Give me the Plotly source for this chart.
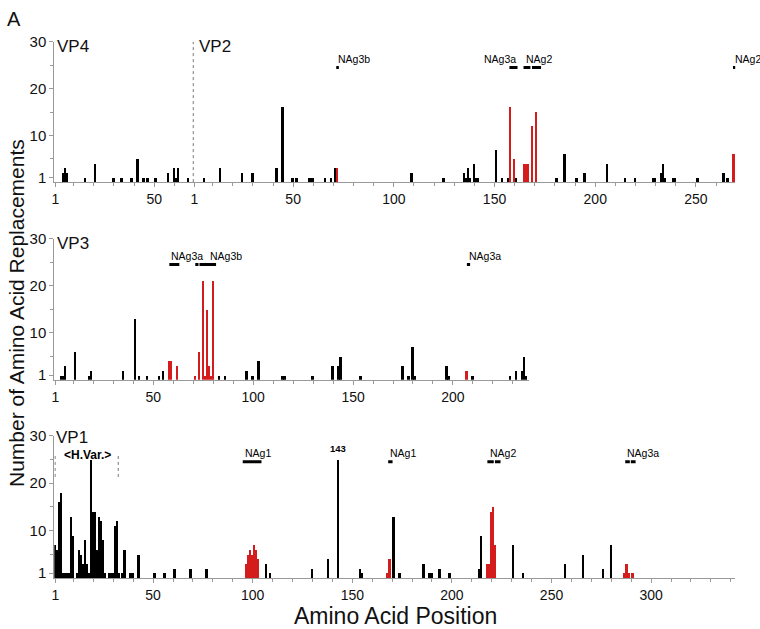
import plotly.graph_objects as go

W, H = 760, 629
VP4_LEN = 69

# ---------------- data (residue position -> number of replacements) ----------------
VP4_POS = [5, 6, 7, 16, 21, 30, 34, 39, 42, 45, 47, 51, 57, 60, 61, 62, 67]
VP4_VAL = [2, 3, 2, 1, 4, 1, 1, 1, 5, 1, 1, 1, 2, 3, 1, 3, 1]

VP2_BLACK_POS = [6, 14, 25, 30, 42, 45, 50, 52, 58, 59, 60, 66, 69, 71, 109, 125, 135, 136, 137, 138,
                 140, 141, 142, 151, 154, 157, 161, 181, 185, 191, 195, 206, 215, 220, 229, 230, 233,
                 234, 235, 239, 240, 251, 264, 266]
VP2_BLACK_VAL = [1, 3, 2, 2, 3, 16, 1, 1, 1, 1, 1, 1, 1, 3, 2, 1, 2, 1, 3, 1,
                 4, 1, 1, 7, 1, 1, 1, 1, 6, 1, 2, 4, 1, 1, 1, 1, 2,
                 4, 1, 1, 1, 1, 2, 1]
VP2_RED_POS = [72, 158, 160, 165, 166, 167, 169, 171, 269]
VP2_RED_VAL = [3, 16, 5, 4, 4, 4, 12, 15, 6]

VP3_BLACK_POS = [4, 5, 6, 11, 18, 19, 35, 41, 43, 47, 53, 55, 83, 86, 97, 100, 103, 115, 116, 130,
                 140, 143, 144, 154, 175, 178, 180, 181, 197, 198, 210, 229, 232, 235, 236, 237]
VP3_BLACK_VAL = [1, 1, 3, 6, 1, 2, 2, 13, 1, 1, 1, 2, 1, 1, 2, 1, 4, 1, 1, 1,
                 3, 3, 5, 1, 3, 1, 7, 1, 3, 1, 1, 1, 2, 2, 5, 1]
VP3_RED_POS = [58, 59, 62, 71, 73, 75, 76, 77, 78, 79, 80, 207]
VP3_RED_VAL = [4, 4, 3, 1, 6, 21, 1, 15, 3, 1, 21, 2]

VP1_BLACK_POS = [1, 2, 3, 4, 5, 6, 7, 8, 9, 10, 12, 13, 14, 15, 16, 17, 18, 19, 20, 21, 22, 23, 24, 25, 26,
                 28, 29, 30, 31, 32, 33, 35, 36, 39, 40, 43, 51, 56, 61, 69, 77, 107, 109, 130, 138, 143,
                 154, 155, 171, 174, 186, 189, 190, 194, 199, 214, 215, 231, 236, 257, 266, 276, 280]
VP1_BLACK_VAL = [7, 6, 16, 18, 1, 1, 1, 1, 13, 9, 1, 6, 5, 3, 8, 3, 1, 25, 14, 14, 6, 13, 12, 8, 1,
                 1, 1, 1, 11, 12, 1, 1, 6, 1, 1, 5, 1, 1, 2, 2, 2, 3, 1, 2, 4, 25,
                 2, 1, 13, 1, 3, 1, 1, 2, 1, 2, 9, 7, 1, 3, 5, 2, 7]
VP1_RED_POS = [97, 98, 99, 100, 101, 102, 103, 168, 169, 218, 219, 220, 221, 222, 287, 288, 289, 291]
VP1_RED_VAL = [3, 5, 6, 5, 7, 6, 4, 1, 4, 3, 3, 14, 15, 7, 1, 3, 1, 1]

# antigenic sites: label, label start residue, segments (residue ranges)
NAG_VP2_TEXT = ["NAg3b", "NAg3a", "NAg2", "NAg2"]
NAG_VP2_TEXT_AT = [72, 162.3, 165, 269]
NAG_VP2_TEXT_SIDE = ["left", "right", "left", "left"]
NAG_VP2_SEGS = [(72, 73.3), (158, 162), (165, 168.4), (169.2, 173.7), (269, 270.8)]

NAG_VP3_TEXT = ["NAg3a", "NAg3b", "NAg3a"]
NAG_VP3_TEXT_AT = [58, 77.6, 207]
NAG_VP3_SEGS = [(58, 63), (71, 72.6), (73.1, 81.4), (207, 208.6)]

NAG_VP1_TEXT = ["NAg1", "NAg1", "NAg2", "NAg3a"]
NAG_VP1_TEXT_AT = [95, 168, 218, 287]
NAG_VP1_SEGS = [(95, 104.4), (168, 170.2), (217.8, 221), (221.6, 224.4), (287, 289.3), (289.8, 292.2)]

HVAR_RANGE = (0.8, 32.5)
HIGHLIGHT_POS = 143

VP4_TICKS = [1, 50]
VP2_TICKS = [1, 50, 100, 150, 200, 250]
VP3_TICKS = [1, 50, 100, 150, 200]
VP1_TICKS = [1, 50, 100, 150, 200, 250, 300]
Y_TICKS = [1, 10, 20, 30]
Y_MINOR = [5, 15, 25]

# ---------------- styling ----------------
BLACK = "#000000"
RED = "#d41c1c"
AXIS = "#9a9a9a"
FONT = "Liberation Sans, Arial, Helvetica, sans-serif"
BAR_W = 0.95


def fx(px):
    return px / W


def fy(py):
    return 1 - py / H


fig = go.Figure()


def bars(pos, val, color, xa, ya, offset=0):
    fig.add_trace(go.Bar(x=[p + offset for p in pos], y=val, width=BAR_W,
                         marker=dict(color=color, line=dict(width=0)),
                         xaxis=xa, yaxis=ya, showlegend=False))


bars(VP4_POS, VP4_VAL, BLACK, "x", "y")
bars(VP2_BLACK_POS, VP2_BLACK_VAL, BLACK, "x", "y", VP4_LEN)
bars(VP2_RED_POS, VP2_RED_VAL, RED, "x", "y", VP4_LEN)
bars(VP3_BLACK_POS, VP3_BLACK_VAL, BLACK, "x2", "y2")
bars(VP3_RED_POS, VP3_RED_VAL, RED, "x2", "y2")
bars(VP1_BLACK_POS, VP1_BLACK_VAL, BLACK, "x3", "y3")
bars(VP1_RED_POS, VP1_RED_VAL, RED, "x3", "y3")


def minor_vals(length, majors, offset=0):
    return [v + offset for v in range(10, length + 1, 10) if v not in majors]


top_tickvals = VP4_TICKS + [v + VP4_LEN for v in VP2_TICKS]
top_ticktext = [str(v) for v in VP4_TICKS + VP2_TICKS]
top_minor = minor_vals(VP4_LEN - 1, VP4_TICKS) + minor_vals(270, VP2_TICKS, VP4_LEN)


def xaxis(dom_px, rng, tickvals, ticktext, minor, anchor):
    return dict(domain=[fx(dom_px[0]), fx(dom_px[1])], range=rng, anchor=anchor,
                showline=True, linecolor=AXIS, linewidth=1, showgrid=False, zeroline=False,
                ticks="outside", ticklen=4, tickcolor=AXIS, tickwidth=1,
                tickmode="array", tickvals=tickvals, ticktext=ticktext,
                tickfont=dict(family=FONT, size=14, color="#111111"),
                minor=dict(tickmode="array", tickvals=minor, ticks="outside", ticklen=3,
                           tickcolor=AXIS, tickwidth=1, showgrid=False),
                fixedrange=True)


def yaxis(dom_px, anchor):
    return dict(domain=[fy(dom_px[1]), fy(dom_px[0])], range=[0, 30], anchor=anchor,
                showline=True, linecolor=AXIS, linewidth=1, showgrid=False, zeroline=False,
                ticks="outside", ticklen=4, tickcolor=AXIS, tickwidth=1,
                tickmode="array", tickvals=Y_TICKS, ticktext=[str(v) for v in Y_TICKS],
                tickfont=dict(family=FONT, size=15, color="#111111"),
                minor=dict(tickmode="array", tickvals=Y_MINOR, ticks="outside", ticklen=3,
                           tickcolor=AXIS, tickwidth=1, showgrid=False),
                fixedrange=True)


layout = dict(
    width=W, height=H, margin=dict(l=0, r=0, t=0, b=0),
    paper_bgcolor="white", plot_bgcolor="white",
    barmode="overlay", bargap=0, showlegend=False,
    font=dict(family=FONT, color="#111111"),
    xaxis=xaxis((51.5, 735.1), [0.4, 338.5], top_tickvals, top_ticktext, top_minor, "y"),
    yaxis=yaxis((33.5, 176.5), "x"),
    xaxis2=xaxis((51.5, 528.5), [0.4, 238.3], VP3_TICKS, [str(v) for v in VP3_TICKS],
                 minor_vals(238, VP3_TICKS), "y2"),
    yaxis2=yaxis((234, 378), "x2"),
    xaxis3=xaxis((51.5, 734.7), [0.4, 342], VP1_TICKS, [str(v) for v in VP1_TICKS],
                 minor_vals(340, VP1_TICKS), "y3"),
    yaxis3=yaxis((435, 580), "x3"),
)
fig.update_layout(**layout)

shapes = []
annotations = []

SEG_Y = 24.5
TXT_Y = 26.3


def site_marks(segs, texts, text_at, sides, xr, yr, offset=0):
    for a, b in segs:
        shapes.append(dict(type="line", xref=xr, yref=yr, x0=a + offset, x1=b + offset,
                           y0=SEG_Y, y1=SEG_Y, line=dict(color=BLACK, width=3)))
    for t, x, s in zip(texts, text_at, sides):
        annotations.append(dict(text=t, xref=xr, yref=yr, x=x + offset, y=TXT_Y,
                                xanchor=s, yanchor="middle", showarrow=False,
                                font=dict(family=FONT, size=10.5, color=BLACK)))


site_marks(NAG_VP2_SEGS, NAG_VP2_TEXT, NAG_VP2_TEXT_AT, NAG_VP2_TEXT_SIDE, "x", "y", VP4_LEN - 0.6)
site_marks(NAG_VP3_SEGS, NAG_VP3_TEXT, NAG_VP3_TEXT_AT, ["left"] * len(NAG_VP3_TEXT), "x2", "y2")
site_marks(NAG_VP1_SEGS, NAG_VP1_TEXT, NAG_VP1_TEXT_AT, ["left"] * len(NAG_VP1_TEXT), "x3", "y3")

# VP4 / VP2 boundary
shapes.append(dict(type="line", xref="x", yref="y", x0=VP4_LEN + 0.4, x1=VP4_LEN + 0.4, y0=0, y1=30,
                   line=dict(color="#777777", width=1, dash="dot")))

# hypervariable region markers
for xv in HVAR_RANGE:
    shapes.append(dict(type="line", xref="x3", yref="y3", x0=xv, x1=xv, y0=21.3, y1=26.3,
                       line=dict(color="#777777", width=1, dash="dot")))
annotations.append(dict(text="<b>&lt;H.Var.&gt;</b>", xref="x3", yref="y3",
                        x=(HVAR_RANGE[0] + HVAR_RANGE[1]) / 2 + 0.5, y=25.9,
                        xanchor="center", yanchor="middle", showarrow=False,
                        font=dict(family=FONT, size=12, color=BLACK)))
annotations.append(dict(text="<b>%d</b>" % HIGHLIGHT_POS, xref="x3", yref="y3",
                        x=HIGHLIGHT_POS, y=27.4, xanchor="center", yanchor="middle", showarrow=False,
                        font=dict(family=FONT, size=9.5, color=BLACK)))


def paper_text(text, x, y, size, xanchor="left", angle=0):
    annotations.append(dict(text=text, xref="paper", yref="paper", x=fx(x), y=fy(y),
                            xanchor=xanchor, yanchor="middle", showarrow=False, textangle=angle,
                            font=dict(family=FONT, size=size, color="#111111")))


paper_text("A", 2, 10, 20)
paper_text("VP4", 52, 38, 17)
paper_text("VP2", 195, 38, 17)
paper_text("VP3", 52, 239, 17)
paper_text("VP1", 51, 437, 17)
paper_text("Number of Amino Acid Replacements", 13, 310, 21, xanchor="center", angle=-90)
paper_text("Amino Acid Position", 394, 619, 23, xanchor="center")

fig.update_layout(shapes=shapes, annotations=annotations)

fig.write_html("out.html", config={"displayModeBar": False},
               post_script="document.body.style.margin='0';document.body.style.overflow='hidden';")
